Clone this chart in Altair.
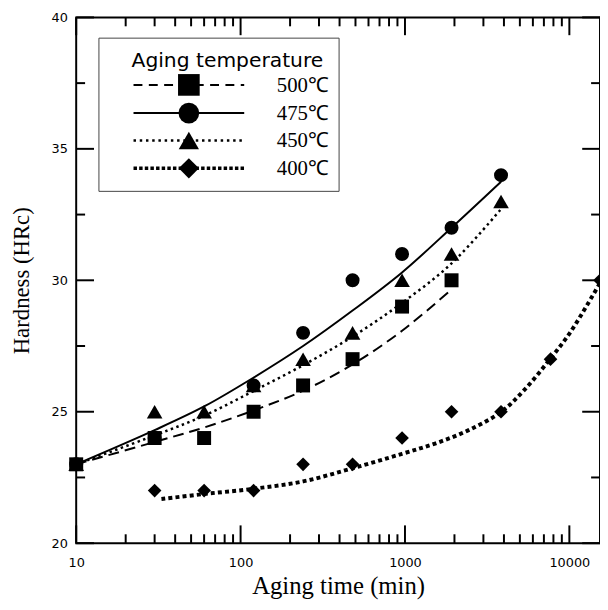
import altair as alt
import pandas as pd

# ---------------- data ----------------
series = ["500", "475", "450", "400"]
labels = ["500\u2103", "475\u2103", "450\u2103", "400\u2103"]

# measured points
t500 = [10, 30, 60, 120, 240, 480, 960, 1920]
h500 = [23, 24, 24, 25, 26, 27, 29, 30]
t475 = [10, 30, 120, 240, 480, 960, 1920, 3840]
h475 = [23, 24, 26, 28, 30, 31, 32, 34]
t450 = [10, 30, 60, 120, 240, 480, 960, 1920, 3840]
h450 = [23, 25, 25, 26, 27, 28, 30, 31, 33]
t400 = [30, 60, 120, 240, 480, 960, 1920, 3840, 7680, 15360]
h400 = [22, 22, 22, 23, 23, 24, 25, 25, 27, 30]

# fitted curves
ct500 = [10, 30, 60, 120, 240, 480, 960, 1920]
ch500 = [23.0, 23.85, 24.4, 25.05, 25.8, 26.8, 28.08, 29.65]
ct475 = [10, 30, 60, 120, 240, 480, 960, 1920, 3840]
ch475 = [23.0, 24.3, 25.2, 26.3, 27.5, 28.85, 30.3, 32.0, 33.75]
ct450 = [10, 30, 60, 120, 240, 480, 960, 1920, 3840]
ch450 = [23.0, 24.1, 24.85, 25.79, 26.77, 27.86, 29.14, 30.64, 32.71]
ct400 = [33, 60, 120, 240, 480, 960, 1540, 2440, 3840, 5360, 7600, 10230, 15360]
ch400 = [21.68, 21.87, 22.07, 22.35, 22.85, 23.4, 23.8, 24.3, 24.99, 25.85, 26.99, 28.06, 29.9]

# axis ticks
x_labels = [10, 100, 1000, 10000]
x_minor = [20, 30, 40, 50, 60, 70, 80, 90,
           200, 300, 400, 500, 600, 700, 800, 900,
           2000, 3000, 4000, 5000, 6000, 7000, 8000, 9000]
y_labels = [20, 25, 30, 35, 40]
y_minor = [22.5, 27.5, 32.5, 37.5]

# ---------------- layout ----------------
W, H = 530, 532
MAJ, MIN = 18, 9

xscale = alt.Scale(type="log", domain=[10, 15360], nice=False)
yscale = alt.Scale(domain=[20, 40], nice=False, zero=False)

styles = {
    "500": dict(shape="square", size=200, dash=[11, 6], width=2, lsize=480, ldash=[9, 6.5], lwidth=2),
    "475": dict(shape="circle", size=200, dash=None, width=2, lsize=440, ldash=None, lwidth=2),
    "450": dict(shape="triangle-up", size=250, dash=[2.5, 3.5], width=2.5, lsize=420, ldash=[2.5, 3.8], lwidth=2.5),
    "400": dict(shape="diamond", size=190, dash=[4, 3.2], width=4, lsize=420, ldash=[3.5, 2.2], lwidth=3.5),
}
pts = {"500": (t500, h500), "475": (t475, h475), "450": (t450, h450), "400": (t400, h400)}
crv = {"500": (ct500, ch500), "475": (ct475, ch475), "450": (ct450, ch450), "400": (ct400, ch400)}

x_axis = alt.Axis(values=x_labels, format="d", ticks=False, domain=False, grid=False,
                  labelFont="DejaVu Sans", labelFontSize=13, labelColor="black",
                  labelPadding=14, labelFlush=False, labelOverlap=False,
                  title="Aging time (min)", titleFont="Liberation Serif", titleFontSize=25,
                  titleFontWeight="normal", titleColor="black",
                  titleY=43, titleBaseline="middle")
y_axis = alt.Axis(values=y_labels, ticks=False, domain=False, grid=False,
                  labelFont="DejaVu Sans", labelFontSize=13, labelColor="black",
                  labelPadding=9, labelFlush=False, labelOverlap=False,
                  title="Hardness (HRc)", titleFont="Liberation Serif", titleFontSize=23,
                  titleFontWeight="normal", titleColor="black",
                  titleX=-55, titleY=H / 2, titleBaseline="middle", titleAngle=270)

X = lambda: alt.X("time:Q", scale=xscale, axis=x_axis)
Y = lambda: alt.Y("hardness:Q", scale=yscale, axis=y_axis)

layers = []

# fitted curves
for s in ["475", "450", "500", "400"]:
    st = styles[s]
    df = pd.DataFrame({"time": crv[s][0], "hardness": crv[s][1]})
    kw = dict(color="black", strokeWidth=st["width"], interpolate="catmull-rom", strokeCap="butt")
    if st["dash"]:
        kw["strokeDash"] = st["dash"]
    layers.append(alt.Chart(df).mark_line(**kw).encode(x=X(), y=Y()))

# points (triangles, circles, squares, diamonds)
for s in ["450", "475", "500", "400"]:
    st = styles[s]
    df = pd.DataFrame({"time": pts[s][0], "hardness": pts[s][1]})
    layers.append(
        alt.Chart(df).mark_point(shape=st["shape"], size=st["size"], filled=True,
                                 color="black", opacity=1, strokeWidth=0).encode(x=X(), y=Y())
    )

# inward ticks
xmaj = pd.DataFrame({"time": x_labels})
xmin = pd.DataFrame({"time": x_minor})
ymaj = pd.DataFrame({"hardness": y_labels})
ymin = pd.DataFrame({"hardness": y_minor})
for d, ln in [(xmaj, MAJ), (xmin, MIN)]:
    layers.append(alt.Chart(d).mark_rule(color="black", strokeWidth=2).encode(
        x=X(), y=alt.value(H), y2=alt.value(H - ln)))
    layers.append(alt.Chart(d).mark_rule(color="black", strokeWidth=2).encode(
        x=X(), y=alt.value(0), y2=alt.value(ln)))
for d, ln in [(ymaj, MAJ), (ymin, MIN)]:
    layers.append(alt.Chart(d).mark_rule(color="black", strokeWidth=2).encode(
        y=Y(), x=alt.value(0), x2=alt.value(ln)))
    layers.append(alt.Chart(d).mark_rule(color="black", strokeWidth=2).encode(
        y=Y(), x=alt.value(W), x2=alt.value(W - ln)))

# legend
box = pd.DataFrame({"label": ["Aging temperature"]})
layers.append(alt.Chart(box).mark_rect(fill="white", stroke="#444444", strokeWidth=1).encode(
    x=alt.value(23), x2=alt.value(266), y=alt.value(21), y2=alt.value(176)))
layers.append(alt.Chart(box).mark_text(align="left", baseline="middle", font="DejaVu Sans",
                                       fontSize=20.5, color="black").encode(
    x=alt.value(56), y=alt.value(44), text=alt.Text("label:N")))
row_y = [68.3, 96.8, 124.5, 152.7]
for i, s in enumerate(series):
    st = styles[s]
    d = pd.DataFrame({"label": [labels[i]]})
    kw = dict(color="black", strokeWidth=st["lwidth"], strokeCap="butt")
    if st["ldash"]:
        kw["strokeDash"] = st["ldash"]
    layers.append(alt.Chart(d).mark_rule(**kw).encode(
        x=alt.value(58), x2=alt.value(170), y=alt.value(row_y[i])))
    layers.append(alt.Chart(d).mark_point(shape=st["shape"], size=st["lsize"], filled=True,
                                          color="black", opacity=1, strokeWidth=0).encode(
        x=alt.value(114), y=alt.value(row_y[i])))
    layers.append(alt.Chart(d).mark_text(align="left", baseline="middle", font="Liberation Serif",
                                         fontSize=21, color="black").encode(
        x=alt.value(203), y=alt.value(row_y[i] + 1), text=alt.Text("label:N")))

chart = alt.layer(*layers).properties(
    width=W, height=H,
    autosize=alt.AutoSizeParams(type="none"),
    padding={"left": 69, "top": 6, "right": 0, "bottom": 56},
).configure_view(stroke="black", strokeWidth=2)

chart.save("out.html", embed_options={"renderer": "svg", "actions": False})
